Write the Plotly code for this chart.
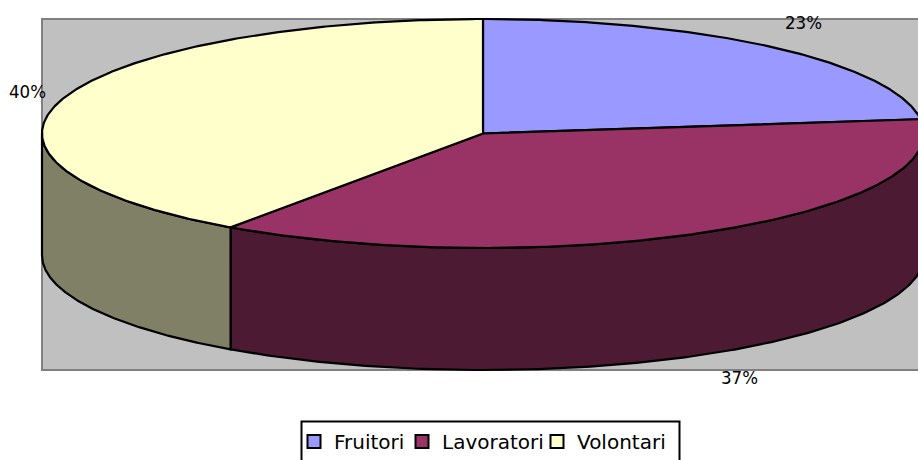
import numpy as np
import plotly.graph_objects as go

categories = ["Fruitori", "Lavoratori", "Volontari"]
values = [23.0, 36.7, 40.3]
top_colors = ["#9999FF", "#993366", "#FFFFCC"]
side_colors = ["#4D1A33", "#4D1A33", "#808066"]

W, H = 918, 460
CX, CY, RX, RY, DEPTH = 483, 133.5, 441, 114.5, 122
label_pos = [(803, 22), (739, 377), (27, 91)]
legend_text_x = [334, 442, 577]
LEGEND_FONT = dict(family="DejaVu Sans", size=20, color="#000000")


def ell(theta, dy=0.0):
    return CX + RX * np.sin(theta), CY - RY * np.cos(theta) + dy


fig = go.Figure()
total = sum(values)
edges = np.concatenate([[0], np.cumsum(values)]) / total * 2 * np.pi

# side walls (only the front half of the rim is visible)
for i in range(len(values)):
    a, b = max(edges[i], np.pi / 2), min(edges[i + 1], 3 * np.pi / 2)
    if a >= b:
        continue
    t = np.linspace(a, b, 200)
    x1, y1 = ell(t)
    x2, y2 = ell(t[::-1], DEPTH)
    fig.add_trace(go.Scatter(
        x=np.r_[x1, x2, x1[0]], y=np.r_[y1, y2, y1[0]], mode="lines", fill="toself",
        fillcolor=side_colors[i], line=dict(color="#000000", width=2.2),
        showlegend=False, hoverinfo="skip"))

# top faces
for i in range(len(values)):
    t = np.linspace(edges[i], edges[i + 1], 300)
    x1, y1 = ell(t)
    fig.add_trace(go.Scatter(
        x=np.r_[CX, x1, CX], y=np.r_[CY, y1, CY], mode="lines", fill="toself",
        fillcolor=top_colors[i], line=dict(color="#000000", width=2.2),
        name=categories[i], showlegend=False, hoverinfo="name"))

# legend entries, one native legend per category to place them as in the reference
legends = {}
for i, cat in enumerate(categories):
    key = "legend" if i == 0 else f"legend{i + 1}"
    fig.add_trace(go.Scatter(
        x=[None], y=[None], mode="markers", name=cat, legend=key,
        marker=dict(symbol="square", size=13, color=top_colors[i],
                    line=dict(color="#000000", width=2))))
    legends[key] = dict(
        x=(legend_text_x[i] - 40) / W, xanchor="left",
        y=1 - 422 / H, yanchor="top", orientation="h",
        font=LEGEND_FONT, bgcolor="rgba(0,0,0,0)", borderwidth=0,
        itemclick=False, itemdoubleclick=False)

for v, (lx, ly) in zip(values, label_pos):
    fig.add_annotation(x=lx, y=ly, text=f"{round(v)}%", showarrow=False,
                       font=dict(family="DejaVu Sans Condensed, Liberation Sans", size=18.5, color="#000000"))

fig.update_layout(
    width=W, height=H, margin=dict(l=0, r=0, t=0, b=0, autoexpand=False),
    paper_bgcolor="#FFFFFF", plot_bgcolor="#FFFFFF", showlegend=True,
    xaxis=dict(range=[0, W], visible=False, fixedrange=True),
    yaxis=dict(range=[H, 0], visible=False, fixedrange=True),
    shapes=[
        dict(type="rect", xref="x", yref="y", x0=42, x1=940, y0=19, y1=370, layer="below",
             fillcolor="#C0C0C0", line=dict(color="#808080", width=2)),
        dict(type="rect", xref="x", yref="y", x0=301.5, x1=679.5, y0=421.5, y1=480, layer="below",
             fillcolor="#FFFFFF", line=dict(color="#000000", width=2)),
    ],
    **legends,
)

fig.write_html(
    "out.html",
    config={"displayModeBar": False},
    post_script="document.body.style.margin='0';document.body.style.overflow='hidden';",
)
